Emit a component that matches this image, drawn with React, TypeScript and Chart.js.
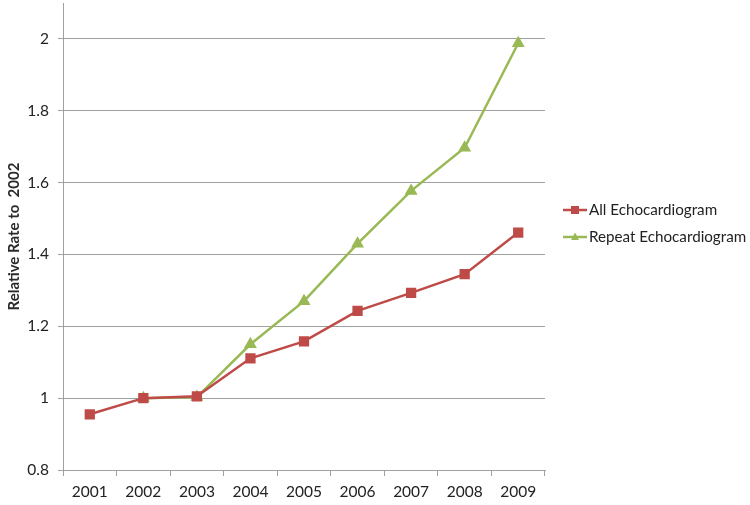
import React, { useEffect, useRef } from "react";
import { Chart, registerables } from "chart.js";

Chart.register(...registerables);

const years = ["2001", "2002", "2003", "2004", "2005", "2006", "2007", "2008", "2009"];
const allEcho = [0.955, 1.0, 1.005, 1.111, 1.158, 1.243, 1.293, 1.345, 1.461];
const repeatEcho = [null, 1.0, 1.003, 1.15, 1.27, 1.43, 1.577, 1.697, 1.988];
const yTickMax = 2.0;

const RED = "#BE4B48";
const GREEN = "#98B954";
const FONT = "Lato, 'Open Sans', sans-serif";

const legendPlugin = {
  id: "sideLegend",
  afterDraw(chart: any) {
    const ctx = chart.ctx;
    const x0 = 563;
    const ys = [210, 237];
    chart.data.datasets.forEach((ds: any, i: number) => {
      const y = ys[i];
      ctx.save();
      ctx.strokeStyle = ds.borderColor;
      ctx.lineWidth = 2.5;
      ctx.beginPath();
      ctx.moveTo(x0, y);
      ctx.lineTo(x0 + 24, y);
      ctx.stroke();
      ctx.fillStyle = ds.pointBackgroundColor;
      const cx = x0 + 12;
      ctx.beginPath();
      if (ds.pointStyle === "rect") {
        ctx.rect(cx - 4, y - 4, 8, 8);
      } else {
        ctx.moveTo(cx, y - 4.5);
        ctx.lineTo(cx + 4, y + 3);
        ctx.lineTo(cx - 4, y + 3);
        ctx.closePath();
      }
      ctx.fill();
      ctx.fillStyle = "#222";
      ctx.font = `15.2px ${FONT}`;
      ctx.textBaseline = "middle";
      ctx.textAlign = "left";
      ctx.fillText(ds.label, x0 + 26, y);
      ctx.restore();
    });
  },
};

export default function App() {
  const ref = useRef<HTMLCanvasElement | null>(null);
  useEffect(() => {
    if (!ref.current) return;
    const chart = new Chart(ref.current, {
      type: "line",
      data: {
        labels: years,
        datasets: [
          {
            label: "All Echocardiogram",
            data: allEcho,
            borderColor: RED,
            backgroundColor: RED,
            pointBackgroundColor: RED,
            pointBorderColor: RED,
            pointStyle: "rect",
            pointRadius: 5.5,
            borderWidth: 2.5,
            tension: 0,
          },
          {
            label: "Repeat Echocardiogram",
            data: repeatEcho,
            borderColor: GREEN,
            backgroundColor: GREEN,
            pointBackgroundColor: GREEN,
            pointBorderColor: GREEN,
            pointStyle: "triangle",
            pointRadius: 5,
            borderWidth: 2.5,
            tension: 0,
          },
        ],
      },
      options: {
        responsive: false,
        animation: false,
        layout: { autoPadding: false, padding: { top: 3, right: 205, left: 0, bottom: 0 } },
        plugins: {
          legend: { display: false },
          tooltip: { enabled: false },
        },
        scales: {
          x: {
            offset: true,
            grid: {
              offset: true,
              drawOnChartArea: false,
              drawTicks: true,
              tickLength: 6,
              color: "#a0a0a0",
            },
            border: { color: "#a0a0a0", width: 1 },
            ticks: {
              color: "#222",
              font: { family: FONT, size: 15.5 },
              padding: 7,
            },
            afterFit: (s: any) => {
              s.height = 35;
              s.paddingLeft = 0;
              s.paddingRight = 0;
            },
          },
          y: {
            min: 0.8,
            max: 2.1,
            afterBuildTicks: (axis: any) => {
              axis.ticks = axis.ticks.filter((t: any) => t.value <= yTickMax + 1e-6);
            },
            grid: {
              color: "#a0a0a0",
              tickLength: 5,
            },
            border: { color: "#a0a0a0", width: 1 },
            ticks: {
              stepSize: 0.2,
              color: "#222",
              font: { family: FONT, size: 15.5 },
              padding: 9,
              callback: (v: any) => String(Math.round(Number(v) * 10) / 10),
            },
            title: {
              display: true,
              text: "Relative Rate to  2002",
              color: "#2a2a2a",
              font: { family: FONT, size: 15, weight: "bold" },
              padding: { top: 5, bottom: 2 },
            },
            afterFit: (s: any) => {
              s.width = 63;
              s.paddingTop = 0;
              s.paddingBottom = 0;
            },
          },
        },
      },
      plugins: [legendPlugin],
    });
    return () => chart.destroy();
  }, []);
  return (
    <div style={{ position: "absolute", left: 0, top: 0, width: 750, height: 505, background: "#fff" }}>
      <canvas ref={ref} width={750} height={505} />
    </div>
  );
}
